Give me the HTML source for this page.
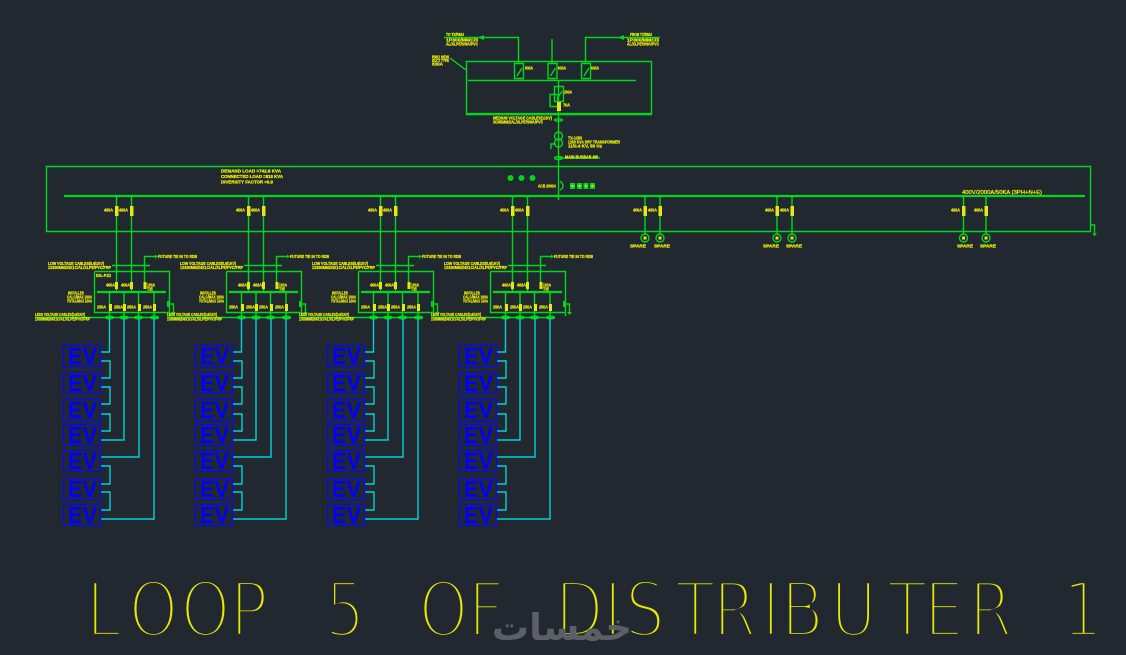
<!DOCTYPE html>
<html><head><meta charset="utf-8"><style>
html,body{margin:0;padding:0;background:#212830;width:1126px;height:655px;overflow:hidden}
svg{display:block}
.t{font-family:"Liberation Sans",sans-serif;font-weight:bold;font-size:4.8px;fill:#f0f000;stroke:#f0f000;stroke-width:.25}
.g{stroke:#00d81a;stroke-width:1.4;fill:none}
.h{stroke:#00d81a;stroke-width:2.2;fill:none}
.y{fill:#e6e614;stroke:none}
.c{stroke:#00d4d8;stroke-width:1.4;fill:none}
.b{stroke:#0808f8;stroke-width:1.3;fill:none}
.ev{font-family:"Liberation Sans",sans-serif;font-weight:bold;font-size:23px;fill:#0000ff}
.ti{font-family:'DejaVu Sans',sans-serif;font-size:77px}
</style></head><body>
<svg width="1126" height="655" viewBox="0 0 1126 655" xmlns="http://www.w3.org/2000/svg">
<defs>
<g id="wires">
<path class="g" d="M116.500 196V292M131.500 196V292M144.500 282V256.500H155M112 265.500H150M94.500 271.500H169.500V316M94.500 271.500V312.500H169.500M109.500 292V316M124 292V316M138.500 292V316M154 292V316M35 317.500H158M169 304H173.500V312"/>
<path class="h" d="M97 292H166"/>
<path d="M155 254.500L158 256.500L155 258.500ZM171 312H176L173.500 315Z" fill="#00d81a"/>
<rect x="167" y="301" width="2" height="6" fill="#00d81a"/>
<g class="g"><ellipse cx="109.500" cy="317.500" rx="4" ry="1.300"/><ellipse cx="124" cy="317.500" rx="4" ry="1.300"/><ellipse cx="138.500" cy="317.500" rx="4" ry="1.300"/><ellipse cx="154.500" cy="317.500" rx="4" ry="1.300"/></g>
<g class="y"><rect x="115" y="206" width="3.500" height="10"/><rect x="130" y="206" width="3.500" height="10"/><rect x="115" y="282" width="3" height="7"/><rect x="130" y="282" width="3" height="7"/><rect x="143.500" y="282" width="3" height="7"/><rect x="109" y="304" width="3" height="7"/><rect x="123" y="304" width="3" height="7"/><rect x="138" y="304" width="3" height="7"/><rect x="153" y="304" width="3" height="7"/></g>
<path class="c" d="M109.500 318V352H100M100 361H110V378H100M100 387H110V404H100M100 414H110V431H100M124 318V440H100M139 318V457H100M100 466H110V484H100M100 492H110V510H100M154 318V519H100"/>
<g class="b"><rect x="63.500" y="345.500" width="37" height="21"/><rect x="63.500" y="372.500" width="37" height="21"/><rect x="63.500" y="399.500" width="37" height="21"/><rect x="63.500" y="424.500" width="37" height="21"/><rect x="63.500" y="450.500" width="37" height="21"/><rect x="63.500" y="478.500" width="37" height="21"/><rect x="63.500" y="504.500" width="37" height="21"/></g>
</g>
<g id="spare">
<path class="g" d="M0 196V234M15 196V234"/>
<g class="y"><rect x="-1.500" y="206" width="3.500" height="10"/><rect x="13.500" y="206" width="3.500" height="10"/><rect x="-1.500" y="236.500" width="3" height="3"/><rect x="13.500" y="236.500" width="3" height="3"/></g>
<g class="g"><circle cx="0" cy="238" r="4"/><circle cx="15" cy="238" r="4"/></g>
</g>
</defs>
<rect width="1126" height="655" fill="#212830"/>

<!-- top RMU -->
<g>
<path class="g" d="M466.500 61.500H651.500V114.500H466.500ZM468 80.500H636M444 37.500H518.500V63M552 39V63M660 37.500H585.500V63M450 58L466 70M558.500 80V200"/>
<path class="g" d="M514.500 63.500h9v15h-9ZM548 63.500h9v15h-9ZM581.500 63.500h9v15h-9ZM554.500 86.500h9v15h-9ZM550 94.500h8v12h-8Z"/>
<path class="g" d="M517 76L522 68M550.500 76L555.500 68M584 76L589 68M557 99L562 91M46.500 166.500H1090.500V231.500H46.500ZM1090.500 225H1094.500V234"/>
<path class="h" d="M64 196H1085M466.500 114H651.500"/>
<path d="M478 37.500L484 35V40ZM618 37.500L624 35V40ZM1092 233.500H1097L1094.500 236Z" fill="#00d81a"/>
<rect x="557" y="102" width="4" height="9" fill="#e6e614"/>
<g class="g"><circle cx="558.500" cy="136" r="4"/><circle cx="558.500" cy="143" r="4"/><ellipse cx="558.500" cy="120" rx="4" ry="1.200"/><ellipse cx="558.500" cy="158" rx="4" ry="1.500"/><path d="M558.500 158H600M556 144H551V149M560 181C564 184 564 188 560 190"/></g>
<g fill="#00d81a"><circle cx="510.500" cy="178" r="3"/><circle cx="521.500" cy="178" r="3"/><circle cx="532.500" cy="178" r="3"/><rect x="570" y="183" width="5" height="6"/><rect x="577" y="183" width="5" height="6"/><rect x="583.500" y="183" width="5" height="6"/><rect x="590" y="183" width="5" height="6"/></g>
<g fill="#e6e614"><rect x="571.500" y="185" width="2" height="2"/><rect x="578.500" y="185" width="2" height="2"/><rect x="585" y="185" width="2" height="2"/><rect x="591.500" y="185" width="2" height="2"/></g>
</g>
<g class="t">
<text x="446" y="36" textLength="18" lengthAdjust="spacingAndGlyphs">TO TX/RMU</text>
<text x="446" y="41.500" textLength="32" lengthAdjust="spacingAndGlyphs">1P300/MMC/3</text>
<text x="446" y="45.500" textLength="32" lengthAdjust="spacingAndGlyphs">AL/XLPE/SWA/PVC</text>
<text x="630" y="36" textLength="22" lengthAdjust="spacingAndGlyphs">FROM TX/RMU</text>
<text x="627" y="41.500" textLength="32" lengthAdjust="spacingAndGlyphs">1P300/MMC/3</text>
<text x="627" y="45.500" textLength="32" lengthAdjust="spacingAndGlyphs">AL/XLPE/SWA/PVC</text>
<text x="432" y="58.500" textLength="17" lengthAdjust="spacingAndGlyphs">RMU NEW</text>
<text x="432" y="62" textLength="17" lengthAdjust="spacingAndGlyphs">DUCT TYPE</text>
<text x="432" y="65.500" textLength="11" lengthAdjust="spacingAndGlyphs">630A</text>
<text x="525" y="69.500" textLength="8" lengthAdjust="spacingAndGlyphs">630A</text>
<text x="558" y="69.500" textLength="8" lengthAdjust="spacingAndGlyphs">630A</text>
<text x="591" y="69.500" textLength="8" lengthAdjust="spacingAndGlyphs">630A</text>
<text x="564" y="93.500" textLength="8" lengthAdjust="spacingAndGlyphs">200A</text>
<text x="563" y="106.500" textLength="7" lengthAdjust="spacingAndGlyphs">70A</text>
<text x="493" y="119.500" textLength="59" lengthAdjust="spacingAndGlyphs">MEDIUM VOLTAGE CABLES(11KV)</text>
<text x="493" y="123.500" textLength="50" lengthAdjust="spacingAndGlyphs">3C/95MM2/AL/XLPE/SWA/PVC</text>
<text x="568" y="139.500" textLength="14" lengthAdjust="spacingAndGlyphs">TX-1250</text>
<text x="568" y="143.500" textLength="52" lengthAdjust="spacingAndGlyphs">1250 KVA DRY TRANSFORMER</text>
<text x="568" y="147.500" textLength="34" lengthAdjust="spacingAndGlyphs">11/0.4 KV, 50 Hz</text>
<text x="565" y="158.500" textLength="33" lengthAdjust="spacingAndGlyphs">MAIN BUSBAR 4W</text>
<text x="538" y="187.500" textLength="18" lengthAdjust="spacingAndGlyphs">ACB 2000A</text>
<text x="221" y="172.500" textLength="60" lengthAdjust="spacingAndGlyphs">DEMAND LOAD =742.8 KVA</text>
<text x="221" y="178" textLength="62" lengthAdjust="spacingAndGlyphs">CONNECTED LOAD =818 KVA</text>
<text x="221" y="183.500" textLength="52" lengthAdjust="spacingAndGlyphs">DIVERSITY FACTOR =0.9</text>
<text x="962" y="194" textLength="80" lengthAdjust="spacingAndGlyphs" style="font-size:5.500px;font-weight:normal">400V/2000A/50KA (3PH+N+E)</text>
</g>

<!-- spares -->
<use href="#spare" x="645"/><use href="#spare" x="777"/>
<g transform="translate(963.500 0)"><path class="g" d="M0 196V234M22.500 196V234"/><g class="y"><rect x="-1.500" y="206" width="3.500" height="10"/><rect x="21" y="206" width="3.500" height="10"/><rect x="-1.500" y="236.500" width="3" height="3"/><rect x="21" y="236.500" width="3" height="3"/></g><g class="g"><circle cx="0" cy="238" r="4"/><circle cx="22.500" cy="238" r="4"/></g></g>
<g class="t">
<text x="633" y="211.500" textLength="9" lengthAdjust="spacingAndGlyphs">400A</text><text x="648" y="211.500" textLength="9" lengthAdjust="spacingAndGlyphs">400A</text>
<text x="765" y="211.500" textLength="9" lengthAdjust="spacingAndGlyphs">400A</text><text x="780" y="211.500" textLength="9" lengthAdjust="spacingAndGlyphs">400A</text>
<text x="951" y="211.500" textLength="9" lengthAdjust="spacingAndGlyphs">400A</text><text x="974" y="211.500" textLength="9" lengthAdjust="spacingAndGlyphs">400A</text>
<text x="630" y="247.500" textLength="16" lengthAdjust="spacingAndGlyphs">SPARE</text><text x="654" y="247.500" textLength="16" lengthAdjust="spacingAndGlyphs">SPARE</text>
<text x="763" y="247.500" textLength="16" lengthAdjust="spacingAndGlyphs">SPARE</text><text x="786" y="247.500" textLength="16" lengthAdjust="spacingAndGlyphs">SPARE</text>
<text x="957" y="247.500" textLength="16" lengthAdjust="spacingAndGlyphs">SPARE</text><text x="980" y="247.500" textLength="16" lengthAdjust="spacingAndGlyphs">SPARE</text>
</g>

<!-- columns -->
<use href="#wires"/><use href="#wires" x="132"/><use href="#wires" x="264"/><use href="#wires" x="396"/>

<g class="t">
<text x="104" y="211.500" textLength="9" lengthAdjust="spacingAndGlyphs">400A</text><text x="119" y="211.500" textLength="9" lengthAdjust="spacingAndGlyphs">400A</text>
<text x="158" y="258" textLength="39" lengthAdjust="spacingAndGlyphs">FUTURE TIE IN TO RDB</text>
<text x="48" y="265" textLength="56" lengthAdjust="spacingAndGlyphs">LOW VOLTAGE CABLES(0.6/1KV)</text>
<text x="48" y="269" textLength="63" lengthAdjust="spacingAndGlyphs">1X630MM2/4X1C/AL/XLPE/PVC/FRP</text>
<text x="96" y="277" textLength="15" lengthAdjust="spacingAndGlyphs">ESL-P1/2</text>
<text x="106" y="286.500" textLength="9" lengthAdjust="spacingAndGlyphs">400A</text><text x="121" y="286.500" textLength="9" lengthAdjust="spacingAndGlyphs">400A</text><text x="147" y="286.500" textLength="8" lengthAdjust="spacingAndGlyphs">100A</text>
<text x="147" y="290.500" textLength="6" lengthAdjust="spacingAndGlyphs">TIE</text>
<text x="68" y="294.500" textLength="16" lengthAdjust="spacingAndGlyphs">INSTALLED</text><text x="67" y="298.500" textLength="25" lengthAdjust="spacingAndGlyphs">CALC/MAX 100A</text><text x="67" y="302.500" textLength="25" lengthAdjust="spacingAndGlyphs">TOTAL/MAX 100A</text>
<text x="97" y="308.500" textLength="9" lengthAdjust="spacingAndGlyphs">250A</text><text x="114" y="308.500" textLength="9" lengthAdjust="spacingAndGlyphs">250A</text><text x="127" y="308.500" textLength="9" lengthAdjust="spacingAndGlyphs">250A</text><text x="143" y="308.500" textLength="9" lengthAdjust="spacingAndGlyphs">250A</text>
<text x="35" y="316" textLength="50" lengthAdjust="spacingAndGlyphs">LESS VOLTAGE CABLES(0.6/1KV)</text>
<text x="35" y="320.500" textLength="55" lengthAdjust="spacingAndGlyphs">1X50MM2/4X1C/AL/XLPE/PVC/FRP</text>
</g>
<g class="t" transform="translate(132 0)">
<text x="104" y="211.500" textLength="9" lengthAdjust="spacingAndGlyphs">400A</text><text x="119" y="211.500" textLength="9" lengthAdjust="spacingAndGlyphs">400A</text>
<text x="158" y="258" textLength="39" lengthAdjust="spacingAndGlyphs">FUTURE TIE IN TO RDB</text>
<text x="48" y="265" textLength="56" lengthAdjust="spacingAndGlyphs">LOW VOLTAGE CABLES(0.6/1KV)</text>
<text x="48" y="269" textLength="63" lengthAdjust="spacingAndGlyphs">1X630MM2/4X1C/AL/XLPE/PVC/FRP</text>
<text x="106" y="286.500" textLength="9" lengthAdjust="spacingAndGlyphs">400A</text><text x="121" y="286.500" textLength="9" lengthAdjust="spacingAndGlyphs">400A</text><text x="147" y="286.500" textLength="8" lengthAdjust="spacingAndGlyphs">100A</text>
<text x="147" y="290.500" textLength="6" lengthAdjust="spacingAndGlyphs">TIE</text>
<text x="68" y="294.500" textLength="16" lengthAdjust="spacingAndGlyphs">INSTALLED</text><text x="67" y="298.500" textLength="25" lengthAdjust="spacingAndGlyphs">CALC/MAX 100A</text><text x="67" y="302.500" textLength="25" lengthAdjust="spacingAndGlyphs">TOTAL/MAX 100A</text>
<text x="97" y="308.500" textLength="9" lengthAdjust="spacingAndGlyphs">250A</text><text x="114" y="308.500" textLength="9" lengthAdjust="spacingAndGlyphs">250A</text><text x="127" y="308.500" textLength="9" lengthAdjust="spacingAndGlyphs">250A</text><text x="143" y="308.500" textLength="9" lengthAdjust="spacingAndGlyphs">250A</text>
<text x="35" y="316" textLength="50" lengthAdjust="spacingAndGlyphs">LESS VOLTAGE CABLES(0.6/1KV)</text>
<text x="35" y="320.500" textLength="55" lengthAdjust="spacingAndGlyphs">1X50MM2/4X1C/AL/XLPE/PVC/FRP</text>
</g>
<g class="t" transform="translate(264 0)">
<text x="104" y="211.500" textLength="9" lengthAdjust="spacingAndGlyphs">400A</text><text x="119" y="211.500" textLength="9" lengthAdjust="spacingAndGlyphs">400A</text>
<text x="158" y="258" textLength="39" lengthAdjust="spacingAndGlyphs">FUTURE TIE IN TO RDB</text>
<text x="48" y="265" textLength="56" lengthAdjust="spacingAndGlyphs">LOW VOLTAGE CABLES(0.6/1KV)</text>
<text x="48" y="269" textLength="63" lengthAdjust="spacingAndGlyphs">1X630MM2/4X1C/AL/XLPE/PVC/FRP</text>
<text x="106" y="286.500" textLength="9" lengthAdjust="spacingAndGlyphs">400A</text><text x="121" y="286.500" textLength="9" lengthAdjust="spacingAndGlyphs">400A</text><text x="147" y="286.500" textLength="8" lengthAdjust="spacingAndGlyphs">100A</text>
<text x="147" y="290.500" textLength="6" lengthAdjust="spacingAndGlyphs">TIE</text>
<text x="68" y="294.500" textLength="16" lengthAdjust="spacingAndGlyphs">INSTALLED</text><text x="67" y="298.500" textLength="25" lengthAdjust="spacingAndGlyphs">CALC/MAX 100A</text><text x="67" y="302.500" textLength="25" lengthAdjust="spacingAndGlyphs">TOTAL/MAX 100A</text>
<text x="97" y="308.500" textLength="9" lengthAdjust="spacingAndGlyphs">250A</text><text x="114" y="308.500" textLength="9" lengthAdjust="spacingAndGlyphs">250A</text><text x="127" y="308.500" textLength="9" lengthAdjust="spacingAndGlyphs">250A</text><text x="143" y="308.500" textLength="9" lengthAdjust="spacingAndGlyphs">250A</text>
<text x="35" y="316" textLength="50" lengthAdjust="spacingAndGlyphs">LESS VOLTAGE CABLES(0.6/1KV)</text>
<text x="35" y="320.500" textLength="55" lengthAdjust="spacingAndGlyphs">1X50MM2/4X1C/AL/XLPE/PVC/FRP</text>
</g>
<g class="t" transform="translate(396 0)">
<text x="104" y="211.500" textLength="9" lengthAdjust="spacingAndGlyphs">400A</text><text x="119" y="211.500" textLength="9" lengthAdjust="spacingAndGlyphs">400A</text>
<text x="158" y="258" textLength="39" lengthAdjust="spacingAndGlyphs">FUTURE TIE IN TO RDB</text>
<text x="48" y="265" textLength="56" lengthAdjust="spacingAndGlyphs">LOW VOLTAGE CABLES(0.6/1KV)</text>
<text x="48" y="269" textLength="63" lengthAdjust="spacingAndGlyphs">1X630MM2/4X1C/AL/XLPE/PVC/FRP</text>
<text x="106" y="286.500" textLength="9" lengthAdjust="spacingAndGlyphs">400A</text><text x="121" y="286.500" textLength="9" lengthAdjust="spacingAndGlyphs">400A</text><text x="147" y="286.500" textLength="8" lengthAdjust="spacingAndGlyphs">100A</text>
<text x="147" y="290.500" textLength="6" lengthAdjust="spacingAndGlyphs">TIE</text>
<text x="68" y="294.500" textLength="16" lengthAdjust="spacingAndGlyphs">INSTALLED</text><text x="67" y="298.500" textLength="25" lengthAdjust="spacingAndGlyphs">CALC/MAX 100A</text><text x="67" y="302.500" textLength="25" lengthAdjust="spacingAndGlyphs">TOTAL/MAX 100A</text>
<text x="97" y="308.500" textLength="9" lengthAdjust="spacingAndGlyphs">250A</text><text x="114" y="308.500" textLength="9" lengthAdjust="spacingAndGlyphs">250A</text><text x="127" y="308.500" textLength="9" lengthAdjust="spacingAndGlyphs">250A</text><text x="143" y="308.500" textLength="9" lengthAdjust="spacingAndGlyphs">250A</text>
<text x="35" y="316" textLength="50" lengthAdjust="spacingAndGlyphs">LESS VOLTAGE CABLES(0.6/1KV)</text>
<text x="35" y="320.500" textLength="55" lengthAdjust="spacingAndGlyphs">1X50MM2/4X1C/AL/XLPE/PVC/FRP</text>
</g>

<!-- EV labels -->
<g class="ev">
<text x="68" y="364" textLength="29" lengthAdjust="spacingAndGlyphs">EV</text><text x="68" y="391" textLength="29" lengthAdjust="spacingAndGlyphs">EV</text><text x="68" y="418" textLength="29" lengthAdjust="spacingAndGlyphs">EV</text><text x="68" y="443" textLength="29" lengthAdjust="spacingAndGlyphs">EV</text><text x="68" y="469" textLength="29" lengthAdjust="spacingAndGlyphs">EV</text><text x="68" y="497" textLength="29" lengthAdjust="spacingAndGlyphs">EV</text><text x="68" y="523" textLength="29" lengthAdjust="spacingAndGlyphs">EV</text>
<text x="200" y="364" textLength="29" lengthAdjust="spacingAndGlyphs">EV</text><text x="200" y="391" textLength="29" lengthAdjust="spacingAndGlyphs">EV</text><text x="200" y="418" textLength="29" lengthAdjust="spacingAndGlyphs">EV</text><text x="200" y="443" textLength="29" lengthAdjust="spacingAndGlyphs">EV</text><text x="200" y="469" textLength="29" lengthAdjust="spacingAndGlyphs">EV</text><text x="200" y="497" textLength="29" lengthAdjust="spacingAndGlyphs">EV</text><text x="200" y="523" textLength="29" lengthAdjust="spacingAndGlyphs">EV</text>
<text x="332" y="364" textLength="29" lengthAdjust="spacingAndGlyphs">EV</text><text x="332" y="391" textLength="29" lengthAdjust="spacingAndGlyphs">EV</text><text x="332" y="418" textLength="29" lengthAdjust="spacingAndGlyphs">EV</text><text x="332" y="443" textLength="29" lengthAdjust="spacingAndGlyphs">EV</text><text x="332" y="469" textLength="29" lengthAdjust="spacingAndGlyphs">EV</text><text x="332" y="497" textLength="29" lengthAdjust="spacingAndGlyphs">EV</text><text x="332" y="523" textLength="29" lengthAdjust="spacingAndGlyphs">EV</text>
<text x="464" y="364" textLength="29" lengthAdjust="spacingAndGlyphs">EV</text><text x="464" y="391" textLength="29" lengthAdjust="spacingAndGlyphs">EV</text><text x="464" y="418" textLength="29" lengthAdjust="spacingAndGlyphs">EV</text><text x="464" y="443" textLength="29" lengthAdjust="spacingAndGlyphs">EV</text><text x="464" y="469" textLength="29" lengthAdjust="spacingAndGlyphs">EV</text><text x="464" y="497" textLength="29" lengthAdjust="spacingAndGlyphs">EV</text><text x="464" y="523" textLength="29" lengthAdjust="spacingAndGlyphs">EV</text>
</g>

<!-- title: yellow glyphs thinned by a background-coloured stroke -->
<g transform="scale(0.82 1)" class="ti">
<text y="636.500" fill="#e8e800" x="104.900 156.800 220.200 280.500 350 396.300 450 510.500 570.700 640 676.800 736 762.200 824.400 869.500 928.700 952.400 1012.800 1082.900 1126.800 1181.700 1250 1295.700">LOOP 5 OF DISTRIBUTER 1</text>
<text y="636.500" fill="none" stroke="#212830" stroke-width="5.400" x="104.900 156.800 220.200 280.500 350 396.300 450 510.500 570.700 640 676.800 736 762.200 824.400 869.500 928.700 952.400 1012.800 1082.900 1126.800 1181.700 1250 1295.700">LOOP 5 OF DISTRIBUTER 1</text>
</g>

<!-- watermark -->
<text x="562" y="640" text-anchor="middle" direction="rtl" style="font-family:'DejaVu Sans',sans-serif;font-weight:bold;font-size:37px;fill:#5c6066">خمسات</text>
</svg>
</body></html>
